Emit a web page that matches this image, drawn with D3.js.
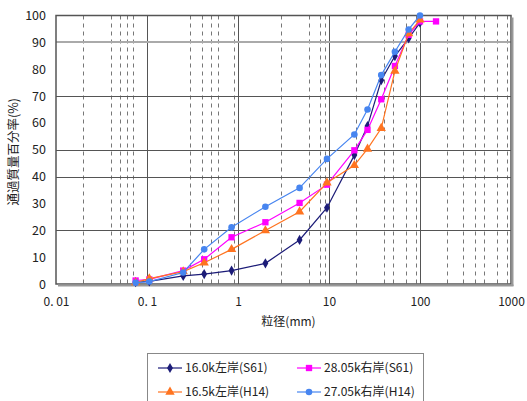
<!DOCTYPE html>
<html>
<head>
<meta charset="utf-8">
<script src="https://cdn.jsdelivr.net/npm/d3@7"></script>
<style>
  body { margin: 0; background: #fff; }
  text { font-family: "Noto Sans CJK JP", "Noto Sans", sans-serif; fill: #222; }
</style>
</head>
<body>
<div id="container"></div>
<script>
/* DATA */
const sizes = [0.075, 0.106, 0.25, 0.425, 0.85, 2, 4.75, 9.5, 19, 26.5, 37.5, 53, 75, 100, 150];

const s1Values = [0.7, 1.0, 3.0, 3.7, 5.0, 7.7, 16.4, 28.4, 48.0, 58.8, 75.9, 84.9, 91.5, 97.3];       // 16.0k左岸(S61)
const s2Values = [1.3, 1.7, 5.0, 9.2, 17.4, 23.0, 30.2, 37.0, 49.8, 57.4, 68.8, 81.2, 92.8, 97.8, 97.8]; // 28.05k右岸(S61)
const s3Values = [0.5, 2.0, 4.6, 7.9, 12.9, 19.9, 26.9, 37.7, 44.2, 50.3, 58.0, 79.3, 93.3, 98.4];      // 16.5k左岸(H14)
const s4Values = [0.5, 0.9, 4.3, 12.9, 21.1, 28.8, 35.8, 46.6, 55.7, 65.0, 77.8, 86.5, 94.8, 100];      // 27.05k右岸(H14)

const seriesNames = ["16.0k左岸(S61)", "28.05k右岸(S61)", "16.5k左岸(H14)", "27.05k右岸(H14)"];

const xMajorTicks = [0.01, 0.1, 1, 10, 100, 1000];
const xTickLabels = ["0. 01", "0. 1", "1", "10", "100", "1000"];
const xMinorGrid = [0.02, 0.04, 0.05, 0.06, 0.07, 0.3, 0.4, 0.5, 0.6, 0.9, 3, 6, 8, 9,
                    20, 40, 50, 70, 90, 200, 300, 400, 500, 700, 900];
const yTicks = [0, 10, 20, 30, 40, 50, 60, 70, 80, 90, 100];
const yGridDark = [20, 40, 50, 70];
const yGridLight = [90];

/* LAYOUT */
const width = 527, height = 401;
const margin = { top: 15.5, bottom: 117, left: 56, right: 16 };

const series = [
  { name: seriesNames[0], values: s1Values, color: "#1c1c78", shape: d3.symbolDiamond, size: 30 },
  { name: seriesNames[1], values: s2Values, color: "#ff00ff", shape: d3.symbolSquare, size: 40 },
  { name: seriesNames[2], values: s3Values, color: "#ff7420", shape: d3.symbolTriangle, size: 38 },
  { name: seriesNames[3], values: s4Values, color: "#4785f0", shape: d3.symbolCircle, size: 34 }
];

const svg = d3.select("#container")
  .append("svg")
  .attr("width", width)
  .attr("height", height);

const xScale = d3.scaleLog()
  .domain([0.01, 1000])
  .range([margin.left, width - margin.right]);

const yScale = d3.scaleLinear()
  .domain([0, 100])
  .range([height - margin.bottom, margin.top]);

const x0 = xScale.range()[0], x1 = xScale.range()[1];
const y0 = yScale.range()[0], y1 = yScale.range()[1];

// minor vertical dashed gridlines
svg.append("g")
  .selectAll("line")
  .data(xMinorGrid)
  .join("line")
  .attr("x1", d => Math.round(xScale(d)) + 0.5)
  .attr("x2", d => Math.round(xScale(d)) + 0.5)
  .attr("y1", y1)
  .attr("y2", y0)
  .attr("stroke", "#777")
  .attr("stroke-dasharray", "4,4");

// major vertical gridlines
svg.append("g")
  .selectAll("line")
  .data(xMajorTicks.slice(1, -1))
  .join("line")
  .attr("x1", d => Math.round(xScale(d)) + 0.5)
  .attr("x2", d => Math.round(xScale(d)) + 0.5)
  .attr("y1", y1)
  .attr("y2", y0)
  .attr("stroke", "#555");

// horizontal gridlines
svg.append("g")
  .selectAll("line")
  .data(yGridDark)
  .join("line")
  .attr("x1", x0).attr("x2", x1)
  .attr("y1", d => Math.round(yScale(d)) + 0.5)
  .attr("y2", d => Math.round(yScale(d)) + 0.5)
  .attr("stroke", "#555");

svg.append("g")
  .selectAll("line")
  .data(yGridLight)
  .join("line")
  .attr("x1", x0).attr("x2", x1)
  .attr("y1", d => Math.round(yScale(d)))
  .attr("y2", d => Math.round(yScale(d)))
  .attr("stroke", "#aaa")
  .attr("stroke-width", 2);

// plot frame
svg.append("rect")
  .attr("x", x0).attr("y", y1)
  .attr("width", x1 - x0).attr("height", y0 - y1)
  .attr("fill", "none")
  .attr("stroke", "#555")
  .attr("stroke-width", 1.5);

svg.append("line")
  .attr("x1", x1 + 1.5).attr("x2", x1 + 1.5)
  .attr("y1", y1 + 2).attr("y2", y0 + 2)
  .attr("stroke", "#999")
  .attr("stroke-width", 2);
svg.append("line")
  .attr("x1", x0 + 2).attr("x2", x1 + 2.5)
  .attr("y1", y0 + 1.5).attr("y2", y0 + 1.5)
  .attr("stroke", "#999")
  .attr("stroke-width", 2);

// axes
const xAxis = d3.axisBottom(xScale)
  .tickValues(xMajorTicks)
  .tickFormat((d, i) => xTickLabels[i])
  .tickSize(0)
  .tickPadding(13);

svg.append("g")
  .attr("transform", `translate(0, ${y0})`)
  .call(xAxis)
  .call(g => g.select(".domain").remove())
  .selectAll(".tick text")
  .attr("font-size", "12px")
  .attr("fill", "#222");

const yAxis = d3.axisLeft(yScale)
  .tickValues(yTicks)
  .tickSize(0)
  .tickPadding(10);

svg.append("g")
  .attr("transform", `translate(${x0}, 0)`)
  .call(yAxis)
  .call(g => g.select(".domain").remove())
  .selectAll(".tick text")
  .attr("font-size", "12.5px")
  .attr("fill", "#222");

// axis titles
svg.append("text")
  .attr("x", (x0 + x1) / 2 + 5)
  .attr("y", 326)
  .attr("text-anchor", "middle")
  .style("font-size", "12px")
  .text("粒径(mm)");

svg.append("text")
  .attr("transform", `translate(18, ${(y0 + y1) / 2 + 2}) rotate(-90)`)
  .attr("text-anchor", "middle")
  .style("font-size", "12.5px")
  .text("通過質量百分率(%)");

// series
const line = d3.line()
  .x(d => xScale(d[0]))
  .y(d => yScale(d[1]));

series.forEach(s => {
  const pts = s.values.map((v, i) => [sizes[i], v]);
  const g = svg.append("g");
  g.append("path")
    .datum(pts)
    .attr("d", line)
    .attr("fill", "none")
    .attr("stroke", s.color)
    .attr("stroke-width", 1.2);
  g.selectAll("path.pt")
    .data(pts)
    .join("path")
    .attr("class", "pt")
    .attr("transform", d => `translate(${xScale(d[0])},${yScale(d[1])})`)
    .attr("d", d3.symbol().type(s.shape).size(s.size))
    .attr("fill", s.color);
});

// legend
const legend = svg.append("g");
legend.append("rect")
  .attr("x", 147.5).attr("y", 353.5)
  .attr("width", 276).attr("height", 60)
  .attr("fill", "#fff")
  .attr("stroke", "#888");

const legendPos = [[158, 368], [297, 368], [158, 392], [297, 392]];
const legendOrder = [0, 1, 2, 3];
legendOrder.forEach((si, k) => {
  const s = series[si];
  const [lx, ly] = legendPos[k];
  legend.append("line")
    .attr("x1", lx).attr("x2", lx + 24)
    .attr("y1", ly).attr("y2", ly)
    .attr("stroke", s.color)
    .attr("stroke-width", 1.2);
  legend.append("path")
    .attr("transform", `translate(${lx + 12},${ly})`)
    .attr("d", d3.symbol().type(s.shape).size(s.size))
    .attr("fill", s.color);
  legend.append("text")
    .attr("x", lx + 27)
    .attr("y", ly)
    .attr("dy", "0.35em")
    .style("font-size", "12px")
    .text(s.name);
});
</script>
</body>
</html>
